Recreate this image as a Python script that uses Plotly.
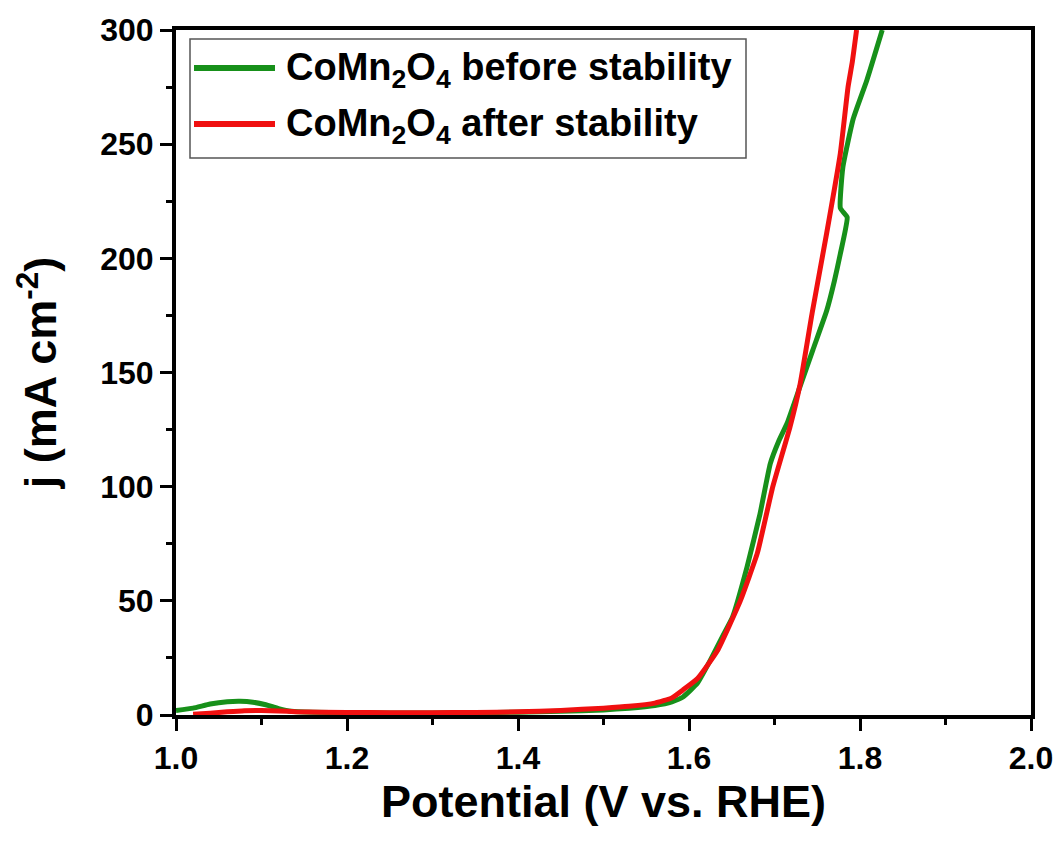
import plotly.graph_objects as go

# before stability (green)
before_x = [1.000, 1.020, 1.040, 1.060, 1.075, 1.090, 1.105, 1.120, 1.135, 1.160, 1.200, 1.250, 1.300, 1.350,
            1.400, 1.450, 1.500, 1.530, 1.560, 1.580, 1.593, 1.610, 1.625, 1.640, 1.651, 1.668, 1.683,
            1.695, 1.705, 1.715, 1.730, 1.745, 1.761, 1.770, 1.777, 1.785, 1.777, 1.780, 1.792, 1.808, 1.826]
before_y = [2.0, 3.0, 4.8, 5.8, 6.0, 5.6, 4.5, 2.8, 1.6, 1.2, 1.0, 0.9, 0.9, 1.0,
            1.2, 1.6, 2.2, 3.0, 4.2, 5.8, 7.9, 14, 24, 35, 43, 65, 88,
            110, 120, 128, 144, 160, 177, 190, 202, 218, 222, 240, 261, 278, 300]

# after stability (red)
after_x = [1.020, 1.040, 1.060, 1.080, 1.100, 1.120, 1.140, 1.200, 1.250, 1.300, 1.350, 1.400, 1.450,
           1.500, 1.530, 1.560, 1.580, 1.593, 1.610, 1.633, 1.660, 1.680, 1.698, 1.718, 1.730,
           1.744, 1.761, 1.777, 1.786, 1.791, 1.796]
after_y = [0.3, 0.8, 1.4, 1.9, 2.0, 1.8, 1.4, 1.1, 1.0, 1.0, 1.1, 1.4, 2.0,
           3.0, 3.8, 5.2, 7.5, 11, 16, 28, 50, 71, 100, 126, 145,
           176, 211, 246, 275, 286, 300]

series_names = ["CoMn<sub>2</sub>O<sub>4</sub> before stability",
                "CoMn<sub>2</sub>O<sub>4</sub> after stability"]
series_colors = ["#17901a", "#f01010"]

x_ticks = [1.0, 1.2, 1.4, 1.6, 1.8, 2.0]
y_ticks = [0, 50, 100, 150, 200, 250, 300]

fig = go.Figure()
fig.add_trace(go.Scatter(x=before_x, y=before_y, mode="lines", name=series_names[0],
                         line=dict(color=series_colors[0], width=5, shape="spline", smoothing=0.4)))
fig.add_trace(go.Scatter(x=after_x, y=after_y, mode="lines", name=series_names[1],
                         line=dict(color=series_colors[1], width=5, shape="spline", smoothing=0.4)))

font_family = "Liberation Sans, Arial, sans-serif"

# plot-area pixel geometry (for placing the hand-drawn legend)
L, R, T, B = 176, 1031, 30, 715
def px_x(p):
    return (p - L) / (R - L)
def px_y(p):
    return (B - p) / (B - T)

shapes = [dict(type="rect", xref="paper", yref="paper",
               x0=px_x(190), x1=px_x(746), y0=px_y(158), y1=px_y(39),
               line=dict(color="#555555", width=1.5), fillcolor="white", layer="above")]
annotations = []
for i, (nm, col) in enumerate(zip(series_names, series_colors)):
    yc = 68 + i * 56
    shapes.append(dict(type="line", xref="paper", yref="paper",
                       x0=px_x(194), x1=px_x(275), y0=px_y(yc), y1=px_y(yc),
                       line=dict(color=col, width=6), layer="above"))
    annotations.append(dict(xref="paper", yref="paper", x=px_x(284), y=px_y(yc + 2),
                            xanchor="left", yanchor="middle", showarrow=False, text=nm,
                            font=dict(size=38, family=font_family, color="black", weight="bold")))

fig.update_layout(
    width=1058, height=845,
    margin=dict(l=L, r=1058 - R, t=T, b=845 - B),
    plot_bgcolor="white", paper_bgcolor="white",
    font=dict(family=font_family, color="black"),
    showlegend=False,
    shapes=shapes,
    annotations=annotations,
    xaxis=dict(range=[1.0, 2.0], tickvals=x_ticks, ticktext=[f"{v:.1f}" for v in x_ticks],
               ticks="outside", ticklen=12, tickwidth=3, tickcolor="black",
               minor=dict(dtick=0.1, ticks="outside", ticklen=6, tickwidth=3, tickcolor="black"),
               showline=True, linewidth=4, linecolor="black", mirror=True,
               showgrid=False, zeroline=False, automargin=False,
               tickfont=dict(size=32, family=font_family, weight="bold"),
               title=dict(text="Potential (V vs. RHE)", standoff=10,
                          font=dict(size=45, family=font_family, weight="bold"))),
    yaxis=dict(range=[0, 300], tickvals=y_ticks,
               ticks="outside", ticklen=12, tickwidth=3, tickcolor="black",
               minor=dict(dtick=25, ticks="outside", ticklen=6, tickwidth=3, tickcolor="black"),
               showline=True, linewidth=4, linecolor="black", mirror=True,
               showgrid=False, zeroline=False, automargin=False,
               tickfont=dict(size=32, family=font_family, weight="bold"),
               title=dict(text="j (mA cm<sup>-2</sup>)", standoff=30,
                          font=dict(size=45, family=font_family, weight="bold"))),
)

fig.write_html("out.html")
